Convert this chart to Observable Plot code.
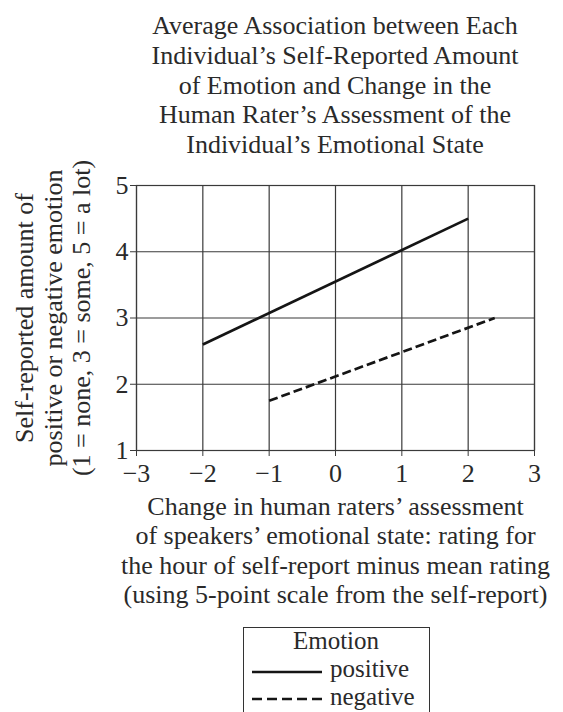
<!DOCTYPE html>
<html><head><meta charset="utf-8">
<script src="https://cdn.jsdelivr.net/npm/d3@7"></script>
<script src="https://cdn.jsdelivr.net/npm/@observablehq/plot@0.6"></script>
<style>
body{margin:0;background:#fff;font-family:"Liberation Serif","DejaVu Serif",serif;color:#2a2a2a;}
#wrap{position:relative;width:563px;height:712px;overflow:hidden;background:#fff;}
#title{position:absolute;left:107px;width:456px;top:11px;text-align:center;font-size:26px;line-height:29.8px;}
#chart{position:absolute;left:0;top:160px;}
#legendbox{position:absolute;left:243px;top:627px;width:185px;height:120px;border:1px solid #333;}
.lgtext{position:absolute;font-size:25px;line-height:28px;white-space:nowrap;}
.lgsw{position:absolute;}
</style></head>
<body><div id="wrap">
<div id="title">Average Association between Each<br>Individual’s Self-Reported Amount<br>of Emotion and Change in the<br>Human Rater’s Assessment of the<br>Individual’s Emotional State</div>
<div id="chart"></div>
<div id="legendbox"></div>
</div>
<script>
const emotions = ["positive", "negative"];
const xStart = [-2, -1];
const yStart = [2.6, 1.75];
const xEnd = [2, 2.4];
const yEnd = [4.5, 3.0];
const dashes = [null, "9,4"];
const legendDashes = [null, "10,5"];
const xTicks = [-3, -2, -1, 0, 1, 2, 3];
const yTicks = [1, 2, 3, 4, 5];
const yLabel = "Self-reported amount of\npositive or negative emotion\n(1 = none, 3 = some, 5 = a lot)";
const xLabel = "Change in human raters’ assessment\nof speakers’ emotional state: rating for\nthe hour of self-report minus mean rating\n(using 5-point scale from the self-report)";
const legendTitle = "Emotion";

const rows = [];
emotions.forEach((e, i) => {
  rows.push({emotion: e, x: xStart[i], y: yStart[i]});
  rows.push({emotion: e, x: xEnd[i], y: yEnd[i]});
});

const ink = "#3a3a3a";
const lineMarks = emotions.map((e, i) => Plot.line(rows.filter(d => d.emotion === e), {
  x: "x", y: "y", stroke: "#151515", strokeWidth: 2.7,
  strokeDasharray: dashes[i] || undefined, strokeLinecap: "butt"
}));

const chart = Plot.plot({
  width: 563, height: 460,
  marginLeft: 136, marginRight: 29, marginTop: 25, marginBottom: 170,
  x: {domain: [-3, 3]},
  y: {domain: [1, 5]},
  style: {fontFamily: "'Liberation Serif', serif", fontSize: "26px", color: "#2a2a2a", background: "white"},
  marks: [
    Plot.gridX(xTicks, {stroke: ink, strokeOpacity: 1, strokeWidth: 1.2}),
    Plot.gridY(yTicks, {stroke: ink, strokeOpacity: 1, strokeWidth: 1.2}),
    Plot.frame({stroke: ink, strokeWidth: 1.2}),
    Plot.axisX(xTicks, {tickSize: 6, tickPadding: 7, label: null, fontSize: 26, stroke: ink}),
    Plot.axisY(yTicks, {tickSize: 6, tickPadding: 2, label: null, fontSize: 26, stroke: ink, tickFormat: d3.format("d")}),
    ...lineMarks,
    Plot.text([yLabel], {text: d => d, frameAnchor: "left", textAnchor: "middle", lineAnchor: "middle",
      rotate: -90, dx: -84, lineHeight: 1.1, fontSize: 26, fill: "#2a2a2a"}),
    Plot.text([xLabel], {text: d => d, frameAnchor: "bottom", textAnchor: "middle", lineAnchor: "top",
      dy: 43, lineHeight: 1.14, fontSize: 26, fill: "#2a2a2a"})
  ]
});
document.getElementById("chart").appendChild(chart);

// legend
const wrap = document.getElementById("wrap");
function addText(txt, left, top, center) {
  const d = document.createElement("div");
  d.className = "lgtext";
  d.textContent = txt;
  d.style.top = top + "px";
  if (center) { d.style.left = (center - 100) + "px"; d.style.width = "200px"; d.style.textAlign = "center"; }
  else d.style.left = left + "px";
  wrap.appendChild(d);
}
addText(legendTitle, 0, 627, 336);
const rowLineY = [672, 699];
const rowTextTop = [655, 683];
emotions.forEach((e, i) => {
  const ns = "http://www.w3.org/2000/svg";
  const s = document.createElementNS(ns, "svg");
  s.setAttribute("class", "lgsw");
  s.setAttribute("width", 72); s.setAttribute("height", 10);
  s.style.left = "252px"; s.style.top = (rowLineY[i] - 5) + "px";
  const l = document.createElementNS(ns, "line");
  l.setAttribute("x1", 0); l.setAttribute("x2", 70); l.setAttribute("y1", 5); l.setAttribute("y2", 5);
  l.setAttribute("stroke", "#151515"); l.setAttribute("stroke-width", 2.7);
  if (legendDashes[i]) l.setAttribute("stroke-dasharray", legendDashes[i]);
  s.appendChild(l); wrap.appendChild(s);
  addText(e, 330, rowTextTop[i]);
});
</script>
</body></html>
